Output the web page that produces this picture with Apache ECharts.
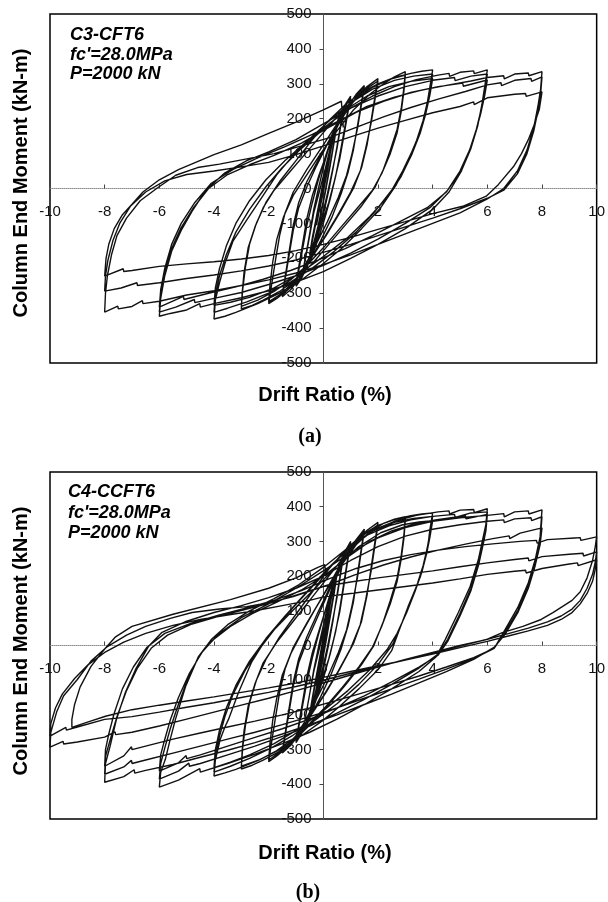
<!DOCTYPE html>
<html>
<head>
<meta charset="utf-8">
<script src="https://cdn.jsdelivr.net/npm/echarts/dist/echarts.min.js"></script>
<style>
html,body{margin:0;padding:0;background:#fff;}
#chart{width:608px;height:902px;}
</style>
</head>
<body>
<div id="chart"></div>
<script>
// ---------- axis ticks ----------
const xTicks = [-10, -8, -6, -4, -2, 0, 2, 4, 6, 8, 10];
const yTicks = [-500, -400, -300, -200, -100, 0, 100, 200, 300, 400, 500];

// ---------- panel (a) C3-CFT6 : [drift %, moment kN-m] ----------
const a_c025 = [[0,0],[0.1,45],[0.25,100],[0.15,55],[0,-5],[-0.15,-65],[-0.25,-105],[-0.15,-60],[0,0],[0.12,50],[0.25,98],[0.15,50],[0,-10],[-0.12,-55],[-0.25,-100]];
const a_c05 = [[-0.1,-45],[0.05,15],[0.2,80],[0.35,140],[0.5,185],[0.4,140],[0.25,70],[0.1,5],[-0.05,-55],[-0.2,-110],[-0.35,-155],[-0.5,-190],[-0.4,-150],[-0.25,-90],[-0.1,-30],[0.05,30],[0.2,90],[0.35,145],[0.5,182],[0.4,135],[0.25,65],[0.1,0],[-0.05,-60],[-0.2,-115],[-0.35,-158],[-0.5,-188]];
const a_c075 = [[-0.4,-140],[-0.25,-80],[-0.1,-20],[0.05,40],[0.25,110],[0.45,170],[0.6,205],[0.75,230],[0.65,190],[0.5,120],[0.35,55],[0.2,-5],[0,-75],[-0.2,-135],[-0.4,-185],[-0.6,-220],[-0.75,-240],[-0.65,-200],[-0.5,-135],[-0.35,-70],[-0.15,-10],[0.05,50],[0.25,115],[0.45,172],[0.6,208],[0.75,228],[0.65,185],[0.5,115],[0.3,40],[0.15,-15],[-0.05,-80],[-0.25,-140],[-0.45,-190],[-0.6,-220],[-0.75,-238]];
const a_c10 = [[-0.65,-195],[-0.5,-130],[-0.35,-60],[-0.15,10],[0.05,75],[0.3,145],[0.55,200],[0.8,240],[1.0,265],[0.9,225],[0.75,160],[0.6,95],[0.45,35],[0.25,-30],[0,-100],[-0.3,-170],[-0.6,-225],[-0.8,-258],[-1.0,-280],[-0.9,-235],[-0.75,-170],[-0.6,-105],[-0.4,-40],[-0.2,20],[0.05,85],[0.35,155],[0.65,215],[1.0,260],[0.9,218],[0.75,150],[0.6,85],[0.4,20],[0.2,-40],[-0.1,-110],[-0.4,-180],[-0.7,-238],[-1.0,-276]];
const a_c15 = [[-0.9,-225],[-0.75,-155],[-0.6,-85],[-0.4,-20],[-0.15,40],[0.15,105],[0.5,175],[0.9,235],[1.2,270],[1.5,295],[1.4,250],[1.25,180],[1.1,110],[0.9,45],[0.65,-15],[0.3,-85],[-0.1,-150],[-0.5,-210],[-0.9,-260],[-1.2,-290],[-1.5,-310],[-1.4,-262],[-1.25,-190],[-1.1,-120],[-0.9,-55],[-0.6,5],[-0.25,65],[0.2,135],[0.6,200],[1.0,250],[1.5,290],[1.4,243],[1.25,172],[1.05,100],[0.85,38],[0.55,-25],[0.15,-95],[-0.3,-165],[-0.7,-225],[-1.1,-275],[-1.5,-305]];
const a_c20 = [[-1.4,-255],[-1.25,-180],[-1.1,-105],[-0.9,-40],[-0.6,20],[-0.2,80],[0.3,150],[0.8,215],[1.2,260],[1.6,292],[2.0,315],[1.9,268],[1.75,195],[1.6,125],[1.4,60],[1.1,0],[0.6,-70],[0.1,-135],[-0.4,-195],[-0.9,-250],[-1.3,-290],[-1.7,-315],[-2.0,-330],[-1.9,-280],[-1.75,-205],[-1.6,-135],[-1.4,-70],[-1.1,-10],[-0.6,55],[0,125],[0.5,185],[1.0,240],[1.5,282],[2.0,308],[1.9,260],[1.75,188],[1.55,115],[1.35,50],[1.0,-10],[0.5,-80],[0,-145],[-0.5,-205],[-1.0,-258],[-1.5,-300],[-2.0,-325]];
const a_c30 = [[-1.95,-275],[-1.85,-210],[-1.7,-145],[-1.45,-80],[-1.1,-20],[-0.6,40],[-0.1,100],[0.5,165],[1.1,225],[1.7,270],[2.2,300],[2.6,320],[3.0,335],
  [2.95,290],[2.85,230],[2.7,170],[2.45,110],[2.2,55],[1.9,5],[1.4,-50],[0.8,-105],[0.2,-160],[-0.4,-215],[-1.0,-260],[-1.6,-295],[-2.2,-320],[-2.6,-335],[-3.0,-345],
  [-2.97,-300],[-2.9,-240],[-2.75,-170],[-2.5,-110],[-2.2,-55],[-1.8,-5],[-1.2,50],[-0.6,105],[0,160],[0.6,215],[1.2,258],[1.8,290],[2.4,312],[3.0,325],
  [2.95,280],[2.85,220],[2.7,160],[2.45,100],[2.15,45],[1.8,-5],[1.2,-60],[0.6,-115],[0,-170],[-0.6,-220],[-1.2,-262],[-1.8,-295],[-2.4,-320],[-3.0,-338]];
const a_c40 = [[-2.95,-290],[-2.85,-225],[-2.7,-160],[-2.45,-100],[-2.1,-40],[-1.6,20],[-1.0,80],[-0.4,140],[0.2,195],[0.8,240],[1.4,275],[2.0,300],[2.6,318],[3.2,330],[3.6,336],[4.0,340],
  [3.9,291],[3.8,245],[3.65,195],[3.4,135],[3.05,70],[2.65,8],[2.1,-55],[1.4,-115],[0.7,-170],[0,-215],[-0.8,-262],[-1.6,-300],[-2.4,-330],[-3.2,-355],[-3.6,-366],[-4.0,-374],
  [-3.95,-320],[-3.8,-270],[-3.6,-215],[-3.3,-150],[-2.8,-90],[-2.2,-20],[-1.7,40],[-1.1,95],[-0.4,150],[0.3,200],[1.0,245],[1.8,285],[2.6,310],[3.3,322],[4.0,328],
  [3.9,280],[3.78,230],[3.6,175],[3.3,115],[2.9,50],[2.5,-5],[1.9,-65],[1.2,-125],[0.4,-180],[-0.4,-228],[-1.2,-268],[-2.0,-300],[-2.8,-325],[-3.5,-343],[-4.0,-355],
  [-3.95,-305],[-3.8,-250],[-3.55,-190],[-3.2,-125],[-2.7,-60],[-2.1,5],[-1.5,60],[-0.8,115],[0,170],[0.8,225],[1.6,265],[2.4,292],[3.2,307],[4.0,315],
  [3.9,268],[3.75,215],[3.55,160],[3.25,100],[2.85,35],[2.4,-20],[1.7,-80],[0.9,-140],[0,-195],[-0.9,-245],[-1.8,-285],[-2.7,-312],[-3.4,-326],[-4.0,-335]];
const a_c60 = [[-3.95,-285],[-3.8,-230],[-3.55,-165],[-3.2,-100],[-2.7,-35],[-2.1,25],[-1.4,80],[-0.6,135],[0.2,185],[1.0,230],[1.8,265],[2.6,292],[3.4,312],[4.2,325],[4.6,330],[4.62,321],[5.0,333],[5.5,337],[5.52,329],[6.0,340],
  [5.9,290],[5.8,240],[5.65,180],[5.4,115],[5.05,50],[4.6,-10],[4.0,-60],[3.0,-115],[2.0,-160],[1.0,-200],[0,-238],[-1.0,-268],[-2.0,-293],[-3.0,-313],[-4.0,-330],[-4.5,-340],[-4.52,-330],[-5.0,-348],[-5.6,-358],[-6.0,-366],
  [-5.95,-315],[-5.8,-250],[-5.55,-180],[-5.2,-120],[-4.8,-65],[-4.3,-5],[-3.6,45],[-2.8,80],[-2.0,105],[-1.0,140],[0,185],[1.0,230],[2.0,265],[3.0,292],[4.0,310],[4.8,318],[4.82,309],[5.4,322],[6.0,328],
  [5.9,280],[5.78,228],[5.6,170],[5.35,110],[5.0,50],[4.55,-5],[3.9,-55],[3.0,-100],[2.0,-145],[1.0,-185],[0,-220],[-1.0,-250],[-2.0,-275],[-3.0,-298],[-4.0,-315],[-4.7,-327],[-4.72,-318],[-5.4,-340],[-6.0,-354],
  [-5.95,-305],[-5.8,-240],[-5.55,-172],[-5.2,-112],[-4.75,-55],[-4.2,0],[-3.5,40],[-2.7,68],[-1.8,95],[-0.8,130],[0.2,175],[1.2,218],[2.2,250],[3.2,275],[4.2,292],[5.1,302],[5.12,293],[6.0,311],
  [5.9,265],[5.75,212],[5.55,155],[5.3,98],[4.95,40],[4.5,-10],[3.8,-55],[2.8,-95],[1.8,-135],[0.8,-172],[-0.2,-205],[-1.2,-235],[-2.2,-260],[-3.2,-282],[-4.2,-300],[-5.1,-318],[-5.12,-309],[-6.0,-340]];
const a_c80 = [[-5.95,-290],[-5.8,-228],[-5.55,-160],[-5.2,-100],[-4.7,-40],[-4.1,15],[-3.3,55],[-2.4,88],[-1.4,120],[-0.4,155],[0.6,195],[1.6,235],[2.6,262],[3.6,282],[4.6,297],[5.4,308],[6.0,318],[6.6,323],[6.62,314],[7.0,328],[7.5,331],[7.52,323],[8.0,335],
  [7.95,285],[7.85,235],[7.7,175],[7.45,110],[7.1,50],[6.6,0],[6.0,-30],[5.0,-70],[4.0,-100],[3.0,-130],[2.0,-160],[1.0,-190],[0,-218],[-1.0,-242],[-2.0,-262],[-3.0,-278],[-4.0,-293],[-5.0,-305],[-6.0,-323],[-6.6,-330],[-6.62,-321],[-7.0,-338],[-7.5,-345],[-7.52,-337],[-8.0,-354],
  [-7.97,-300],[-7.9,-250],[-7.75,-190],[-7.55,-135],[-7.2,-85],[-6.7,-35],[-6.1,0],[-5.4,38],[-4.6,60],[-3.8,70],[-2.8,85],[-1.8,100],[-0.8,122],[0.2,145],[1.2,175],[2.2,205],[3.2,232],[4.2,256],[5.2,278],[6.0,297],[6.5,303],[6.52,295],[7.0,310],[7.6,315],[7.62,307],[8.0,320],
  [7.95,272],[7.85,222],[7.7,165],[7.45,100],[7.1,42],[6.6,-5],[6.0,-28],[5.0,-58],[4.0,-85],[3.0,-110],[2.0,-135],[1.0,-160],[0,-183],[-1.0,-205],[-2.0,-222],[-3.0,-236],[-4.0,-248],[-5.0,-258],[-6.0,-270],[-6.8,-278],[-6.82,-270],[-7.4,-285],[-8.0,-294],
  [-7.97,-250],[-7.88,-205],[-7.7,-150],[-7.45,-100],[-7.05,-50],[-6.5,-10],[-5.8,22],[-5.0,40],[-4.0,50],[-3.0,62],[-2.0,75],[-1.0,97],[0,122],[1.0,148],[2.0,173],[3.0,195],[4.0,217],[5.0,235],[5.5,248],[5.52,240],[6.0,260],[7.0,270],[7.4,272],[7.42,264],[8.0,277],
  [7.9,226],[7.7,180],[7.5,140],[7.25,100],[6.96,63],[6.4,11],[5.96,-22],[5.1,-51],[4.0,-72],[3.0,-95],[2.0,-117],[1.0,-140],[0,-160],[-1.0,-178],[-2.0,-192],[-3.0,-202],[-4.0,-210],[-5.0,-216],[-6.0,-223],[-7.0,-235],[-7.3,-238],[-7.32,-230],[-8.0,-251],
  [-7.95,-200],[-7.85,-160],[-7.65,-115],[-7.35,-75],[-7.0,-45],[-6.6,-10],[-6.0,25],[-5.3,54],[-4.0,97],[-3.0,125],[-2.0,158],[-1.0,190],[0,225],[0.66,250],[0.7,210],[0.73,175]];

// ---------- panel (b) C4-CCFT6 ----------
const b_c025 = [[0,0],[0.1,50],[0.25,120],[0.15,70],[0,0],[-0.12,-55],[-0.25,-115],[-0.15,-65],[0,0],[0.12,55],[0.25,118],[0.15,65],[0,-5],[-0.12,-58],[-0.25,-113]];
const b_c05 = [[-0.12,-50],[0,10],[0.15,75],[0.3,140],[0.5,210],[0.4,160],[0.25,90],[0.1,20],[-0.05,-45],[-0.2,-105],[-0.35,-155],[-0.5,-200],[-0.4,-155],[-0.25,-95],[-0.1,-30],[0.05,35],[0.2,100],[0.35,160],[0.5,206],[0.4,152],[0.25,82],[0.1,12],[-0.05,-52],[-0.2,-110],[-0.35,-160],[-0.5,-198]];
const b_c075 = [[-0.4,-150],[-0.25,-85],[-0.1,-20],[0.05,45],[0.25,125],[0.45,195],[0.6,238],[0.75,265],[0.65,220],[0.5,145],[0.35,70],[0.2,5],[0,-70],[-0.2,-135],[-0.4,-190],[-0.6,-228],[-0.75,-250],[-0.65,-205],[-0.5,-140],[-0.35,-75],[-0.15,-10],[0.05,55],[0.25,130],[0.45,198],[0.6,240],[0.75,262],[0.65,215],[0.5,138],[0.3,55],[0.15,-5],[-0.05,-75],[-0.25,-140],[-0.45,-195],[-0.6,-228],[-0.75,-248]];
const b_c10 = [[-0.65,-205],[-0.5,-140],[-0.35,-70],[-0.15,5],[0.05,75],[0.3,160],[0.55,225],[0.8,272],[1.0,300],[0.9,255],[0.75,180],[0.6,105],[0.45,40],[0.25,-25],[0,-95],[-0.3,-165],[-0.6,-222],[-0.8,-255],[-1.0,-280],[-0.9,-235],[-0.75,-170],[-0.6,-105],[-0.4,-35],[-0.2,25],[0.05,95],[0.35,175],[0.65,242],[1.0,295],[0.9,248],[0.75,172],[0.6,97],[0.4,25],[0.2,-38],[-0.1,-110],[-0.4,-180],[-0.7,-235],[-1.0,-277]];
const b_c15 = [[-0.9,-228],[-0.75,-158],[-0.6,-88],[-0.4,-20],[-0.15,45],[0.15,120],[0.5,200],[0.9,268],[1.2,305],[1.5,335],[1.4,285],[1.25,205],[1.1,125],[0.9,55],[0.65,-10],[0.3,-80],[-0.1,-148],[-0.5,-208],[-0.9,-258],[-1.2,-288],[-1.5,-310],[-1.4,-262],[-1.25,-190],[-1.1,-118],[-0.9,-50],[-0.6,12],[-0.25,75],[0.2,155],[0.6,228],[1.0,285],[1.5,330],[1.4,278],[1.25,196],[1.05,115],[0.85,45],[0.55,-20],[0.15,-92],[-0.3,-162],[-0.7,-222],[-1.1,-272],[-1.5,-305]];
const b_c20 = [[-1.4,-255],[-1.25,-180],[-1.1,-105],[-0.9,-38],[-0.6,25],[-0.2,95],[0.3,178],[0.8,250],[1.2,298],[1.6,332],[2.0,355],[1.9,305],[1.75,225],[1.6,145],[1.4,70],[1.1,5],[0.6,-68],[0.1,-135],[-0.4,-195],[-0.9,-252],[-1.3,-292],[-1.7,-318],[-2.0,-335],[-1.9,-283],[-1.75,-207],[-1.6,-135],[-1.4,-68],[-1.1,-5],[-0.6,65],[0,145],[0.5,215],[1.0,275],[1.5,320],[2.0,348],[1.9,296],[1.75,215],[1.55,132],[1.35,60],[1.0,-8],[0.5,-80],[0,-145],[-0.5,-207],[-1.0,-260],[-1.5,-302],[-2.0,-330]];
const b_c30 = [[-1.95,-280],[-1.85,-215],[-1.7,-150],[-1.5,-85],[-1.2,-25],[-0.8,35],[-0.3,105],[0.2,170],[0.7,235],[1.2,290],[1.7,328],[2.2,352],[2.6,364],[3.0,371],
  [2.95,320],[2.85,260],[2.7,195],[2.45,130],[2.2,70],[1.85,0],[1.4,-55],[0.8,-115],[0.2,-170],[-0.4,-222],[-1.0,-268],[-1.6,-305],[-2.2,-330],[-2.6,-345],[-3.0,-356],
  [-2.97,-305],[-2.9,-245],[-2.75,-175],[-2.5,-110],[-2.2,-50],[-1.7,10],[-1.1,70],[-0.5,130],[0.1,190],[0.7,250],[1.3,300],[1.9,335],[2.5,354],[3.0,362],
  [2.95,310],[2.85,250],[2.7,185],[2.45,120],[2.15,58],[1.8,-5],[1.3,-62],[0.7,-120],[0.1,-175],[-0.5,-225],[-1.1,-268],[-1.7,-303],[-2.3,-328],[-3.0,-348]];
const b_c40 = [[-2.95,-295],[-2.85,-230],[-2.7,-165],[-2.45,-100],[-2.1,-40],[-1.6,25],[-1.0,90],[-0.4,155],[0.2,220],[0.8,275],[1.4,318],[2.0,346],[2.6,363],[3.2,374],[3.6,379],[4.0,382],
  [3.9,335],[3.84,296],[3.7,245],[3.55,198],[3.3,150],[3.1,112],[2.74,37],[2.5,-15],[2.0,-70],[1.3,-125],[0.6,-175],[0,-215],[-0.8,-260],[-1.6,-300],[-2.4,-332],[-3.2,-357],[-3.6,-367],[-4.0,-376],
  [-3.95,-330],[-3.77,-270],[-3.6,-235],[-3.47,-213],[-3.1,-135],[-2.63,-49],[-2.27,-3],[-1.7,55],[-1.1,110],[-0.4,170],[0.3,230],[1.0,285],[1.8,330],[2.6,355],[3.3,366],[4.0,372],
  [3.9,325],[3.8,280],[3.65,230],[3.45,180],[3.2,125],[2.85,60],[2.55,5],[2.0,-55],[1.3,-112],[0.5,-168],[-0.3,-215],[-1.1,-258],[-1.9,-295],[-2.7,-325],[-3.4,-348],[-4.0,-365],
  [-3.95,-318],[-3.8,-262],[-3.6,-205],[-3.3,-140],[-2.85,-70],[-2.35,-10],[-1.8,45],[-1.1,102],[-0.3,165],[0.5,230],[1.3,285],[2.1,325],[2.9,348],[3.5,356],[4.0,360],
  [3.9,312],[3.78,265],[3.6,210],[3.35,155],[3.05,95],[2.7,35],[2.35,-10],[1.7,-70],[0.9,-130],[0,-188],[-0.9,-240],[-1.8,-283],[-2.7,-315],[-3.4,-336],[-4.0,-352]];
const b_c60 = [[-3.95,-300],[-3.8,-245],[-3.55,-180],[-3.2,-115],[-2.7,-45],[-2.1,20],[-1.4,85],[-0.6,155],[0.2,225],[1.0,285],[1.8,330],[2.6,358],[3.4,375],[4.2,385],[4.6,388],[4.62,379],[5.0,390],[5.5,392],[5.52,383],[6.0,394],
  [5.95,350],[5.85,313],[5.67,247],[5.37,170],[4.94,95],[4.46,17],[4.13,-32],[3.5,-75],[2.5,-125],[1.5,-170],[0.5,-212],[-0.5,-250],[-1.5,-283],[-2.5,-313],[-3.5,-340],[-4.5,-365],[-4.52,-355],[-5.3,-388],[-6.0,-408],
  [-5.95,-365],[-5.78,-328],[-5.6,-270],[-5.41,-213],[-5.04,-118],[-4.57,-32],[-4.1,17],[-3.5,60],[-2.7,100],[-1.8,135],[-0.9,175],[0,225],[0.8,275],[1.6,318],[2.4,345],[3.2,362],[4.0,372],[4.8,378],[4.82,369],[5.4,382],[6.0,385],
  [5.95,340],[5.85,300],[5.68,240],[5.4,165],[5.0,92],[4.55,18],[4.2,-25],[3.5,-65],[2.5,-112],[1.5,-155],[0.5,-195],[-0.5,-232],[-1.5,-262],[-2.5,-290],[-3.5,-315],[-4.5,-340],[-4.9,-348],[-4.92,-339],[-5.3,-362],[-6.0,-385],
  [-5.95,-340],[-5.8,-295],[-5.6,-240],[-5.35,-180],[-5.0,-105],[-4.55,-30],[-4.05,15],[-3.4,55],[-2.6,92],[-1.7,125],[-0.8,160],[0.1,205],[0.9,255],[1.7,300],[2.5,330],[3.3,350],[4.1,362],[5.0,372],[5.2,374],[5.22,365],[6.0,378],
  [5.95,332],[5.85,292],[5.68,232],[5.4,158],[5.0,85],[4.55,12],[4.2,-28],[3.5,-62],[2.5,-105],[1.5,-145],[0.5,-180],[-0.5,-212],[-1.5,-240],[-2.5,-265],[-3.5,-290],[-4.5,-315],[-5.0,-326],[-5.02,-317],[-5.3,-338],[-6.0,-362]];
const b_c80 = [[-5.95,-315],[-5.8,-270],[-5.6,-215],[-5.3,-150],[-4.9,-80],[-4.4,-15],[-3.8,35],[-3.0,80],[-2.0,120],[-1.0,165],[0,215],[1.0,268],[2.0,310],[3.0,340],[4.0,358],[5.0,368],[6.0,375],[6.6,380],[6.62,371],[7.0,385],[7.5,388],[7.52,379],[8.0,391],
  [7.93,313],[7.75,247],[7.5,181],[7.13,112],[6.65,46],[6.29,-3],[5.5,-40],[4.5,-75],[3.5,-108],[2.5,-140],[1.5,-170],[0.5,-200],[-0.5,-228],[-1.5,-255],[-2.5,-280],[-3.5,-302],[-4.5,-322],[-5.5,-343],[-6.5,-360],[-6.9,-368],[-6.92,-358],[-7.3,-378],[-8.0,-394],
  [-7.97,-340],[-7.8,-290],[-7.57,-213],[-7.24,-135],[-6.87,-69],[-6.4,-3],[-5.92,37],[-5.0,70],[-4.0,95],[-3.0,115],[-2.0,138],[-1.0,165],[0,200],[1.0,245],[2.0,285],[3.0,315],[4.0,335],[5.0,348],[6.0,358],[6.6,362],[6.62,354],[7.0,365],[7.6,368],[7.62,360],[8.0,371],
  [7.93,300],[7.75,238],[7.5,172],[7.13,103],[6.65,38],[6.25,-8],[5.5,-38],[4.5,-68],[3.5,-97],[2.5,-125],[1.5,-152],[0.5,-180],[-0.5,-205],[-1.5,-228],[-2.5,-250],[-3.5,-270],[-4.5,-290],[-5.5,-310],[-6.5,-330],[-7.0,-340],[-7.02,-331],[-7.3,-350],[-8.0,-371],
  [-7.97,-320],[-7.8,-272],[-7.55,-205],[-7.2,-130],[-6.8,-65],[-6.3,-8],[-5.7,30],[-4.8,62],[-3.8,85],[-2.8,105],[-1.8,125],[-0.8,150],[0.2,175],[1.2,205],[2.2,232],[3.2,255],[4.2,275],[5.2,292],[6.2,308],[6.8,316],[6.82,308],[7.2,324],[8.0,339],
  [7.93,290],[7.75,230],[7.5,165],[7.13,97],[6.65,32],[6.2,-10],[5.5,-35],[4.5,-62],[3.5,-88],[2.5,-112],[1.5,-135],[0.5,-158],[-0.5,-180],[-1.5,-200],[-2.5,-218],[-3.5,-235],[-4.5,-252],[-5.5,-270],[-6.5,-290],[-7.0,-300],[-7.02,-292],[-7.3,-318],[-8.0,-348]];
const b_c100 = [[-7.97,-300],[-7.85,-255],[-7.65,-195],[-7.35,-125],[-6.95,-62],[-6.45,-5],[-5.8,35],[-4.8,65],[-3.8,88],[-2.8,108],[-1.8,130],[-0.8,158],[0.2,192],[1.2,222],[2.2,245],[3.2,262],[4.2,275],[5.2,285],[6.2,293],[7.2,300],[7.8,303],[7.82,295],[8.2,305],[9.2,310],[9.4,311],[9.42,303],[10.0,313],
  [9.95,285],[9.85,245],[9.65,195],[9.4,155],[9.1,130],[8.8,115],[8.4,95],[7.97,75],[7.3,55],[6.55,37],[5.96,17],[5.0,0],[4.0,-20],[3.0,-40],[2.0,-62],[1.0,-85],[0,-108],[-1.0,-130],[-2.0,-152],[-3.0,-172],[-4.0,-192],[-5.0,-212],[-6.0,-232],[-7.0,-250],[-7.6,-257],[-7.62,-249],[-8.0,-264],[-9.0,-278],[-9.5,-284],[-9.52,-276],[-10.0,-293],
  [-9.97,-250],[-9.75,-190],[-9.5,-145],[-9.0,-98],[-8.5,-45],[-7.9,-3],[-7.2,30],[-6.5,55],[-5.6,78],[-4.8,95],[-3.8,105],[-2.8,112],[-1.9,125],[-1.1,141],[0,170],[1.0,183],[2.0,195],[3.0,205],[4.0,215],[5.0,227],[6.0,238],[7.0,248],[7.5,252],[7.52,244],[8.0,256],[9.0,263],[9.5,266],[9.52,258],[10.0,270],
  [9.95,240],[9.85,205],[9.65,165],[9.4,130],[9.1,105],[8.7,85],[8.2,68],[7.5,50],[6.8,35],[6.0,18],[5.0,-2],[4.0,-22],[3.0,-42],[2.0,-60],[1.0,-80],[0,-100],[-1.0,-118],[-2.0,-135],[-3.0,-150],[-4.0,-165],[-5.0,-178],[-6.0,-192],[-7.0,-205],[-8.0,-213],[-9.0,-235],[-9.4,-244],[-9.42,-236],[-10.0,-261],
  [-9.97,-225],[-9.8,-180],[-9.55,-140],[-9.1,-95],[-8.6,-55],[-8.0,-20],[-7.3,10],[-6.5,35],[-5.5,58],[-4.5,75],[-3.5,88],[-2.5,100],[-1.5,115],[-0.5,130],[0,140],[1.0,150],[2.0,160],[3.0,170],[4.0,180],[5.0,192],[6.0,205],[7.0,214],[7.4,217],[7.42,209],[8.0,222],[9.0,235],[9.3,238],[9.32,230],[10.0,247],
  [9.95,220],[9.85,185],[9.65,150],[9.4,120],[9.1,95],[8.7,75],[8.2,58],[7.5,42],[6.8,28],[6.0,12],[5.0,-6],[4.0,-25],[3.0,-42],[2.0,-58],[1.0,-75],[0,-92],[-1.0,-108],[-2.0,-122],[-3.0,-135],[-4.0,-148],[-5.0,-160],[-6.0,-172],[-7.0,-185],[-7.97,-204],[-8.6,-220],[-9.2,-236],[-9.2,-213],
  [-9.1,-170],[-8.9,-120],[-8.5,-60],[-8.0,-10],[-7.6,25],[-7.0,55],[-5.5,90],[-3.4,132],[-2.0,165],[-1.0,195],[-0.2,225],[0.05,233],[0.1,200]];

// ---------- texts ----------
const panelA = {name: 'C3-CFT6', fc: "fc'=28.0MPa", p: 'P=2000 kN', tag: '(a)'};
const panelB = {name: 'C4-CCFT6', fc: "fc'=28.0MPa", p: 'P=2000 kN', tag: '(b)'};
const xTitle = 'Drift Ratio (%)';
const yTitle = 'Column End Moment (kN-m)';

const dataA = [].concat(a_c025, a_c05, a_c075, a_c10, a_c15, a_c20, a_c30, a_c40, a_c60, a_c80);
const dataB = [].concat(b_c025, b_c05, b_c075, b_c10, b_c15, b_c20, b_c30, b_c40, b_c60, b_c80, b_c100);

const FONT = '"Liberation Sans", Arial, Helvetica, sans-serif';
const chart = echarts.init(document.getElementById('chart'), null, {renderer: 'canvas'});

// grid geometry (pixels)
const G = [
  {left: 50, top: 14, width: 547, height: 349},
  {left: 50, top: 472, width: 547, height: 347}
];
// axes are moved onto the zero lines by offset (zero is at the middle of each range)
function xAx(gi) {
  return {
    type: 'value', gridIndex: gi, position: 'bottom', offset: -G[gi].height / 2,
    min: xTicks[0], max: xTicks[xTicks.length - 1], interval: 2,
    axisLine: {show: true, onZero: false, lineStyle: {color: '#8a8a8a', width: 1, type: 'dotted'}},
    axisTick: {show: true, inside: true, length: 4, lineStyle: {color: '#444'}},
    axisLabel: {show: true, margin: 16, fontSize: 15, fontFamily: FONT, color: '#111'},
    splitLine: {show: false}
  };
}
function yAx(gi) {
  return {
    type: 'value', gridIndex: gi, position: 'left', offset: -G[gi].width / 2,
    min: yTicks[0], max: yTicks[yTicks.length - 1], interval: 100,
    axisLine: {show: true, onZero: false, lineStyle: {color: '#555', width: 1}},
    axisTick: {show: true, inside: false, length: 4, lineStyle: {color: '#444'}},
    axisLabel: {show: true, margin: 12, fontSize: 15, fontFamily: FONT, color: '#111'},
    splitLine: {show: false}
  };
}
function txt(text, x, y, font, align, rot) {
  return {
    type: 'text', x: x, y: y, rotation: rot || 0, z: 10,
    style: {text: text, font: font, fill: '#000', textAlign: align || 'center', textVerticalAlign: 'middle', align: align || 'center', verticalAlign: 'middle'}
  };
}
const annFont = 'italic bold 18px ' + FONT;
const titleFont = 'bold 20px ' + FONT;
const tagFont = 'bold 20px "Liberation Serif", "Times New Roman", serif';

chart.setOption({
  animation: false,
  backgroundColor: '#fff',
  grid: G.map(g => Object.assign({show: true, borderColor: '#000', borderWidth: 1.5, backgroundColor: 'transparent', containLabel: false}, g)),
  xAxis: [xAx(0), xAx(1)],
  yAxis: [yAx(0), yAx(1)],
  series: [
    {type: 'line', xAxisIndex: 0, yAxisIndex: 0, data: dataA, showSymbol: false, symbol: 'none', smooth: false,
     lineStyle: {color: '#111', width: 1.4}, z: 5},
    {type: 'line', xAxisIndex: 1, yAxisIndex: 1, data: dataB, showSymbol: false, symbol: 'none', smooth: false,
     lineStyle: {color: '#111', width: 1.4}, z: 5}
  ],
  graphic: [
    txt(panelA.name, 70, 35, annFont, 'left'),
    txt(panelA.fc, 70, 55, annFont, 'left'),
    txt(panelA.p, 70, 74, annFont, 'left'),
    txt(panelB.name, 68, 492, annFont, 'left'),
    txt(panelB.fc, 68, 513, annFont, 'left'),
    txt(panelB.p, 68, 533, annFont, 'left'),
    txt(xTitle, 325, 395, titleFont, 'center'),
    txt(xTitle, 325, 853, titleFont, 'center'),
    txt(yTitle, 21, 183, titleFont, 'center', Math.PI / 2),
    txt(yTitle, 21, 641, titleFont, 'center', Math.PI / 2),
    txt(panelA.tag, 310, 437, tagFont, 'center'),
    txt(panelB.tag, 308, 893, tagFont, 'center')
  ]
});
</script>
</body>
</html>
